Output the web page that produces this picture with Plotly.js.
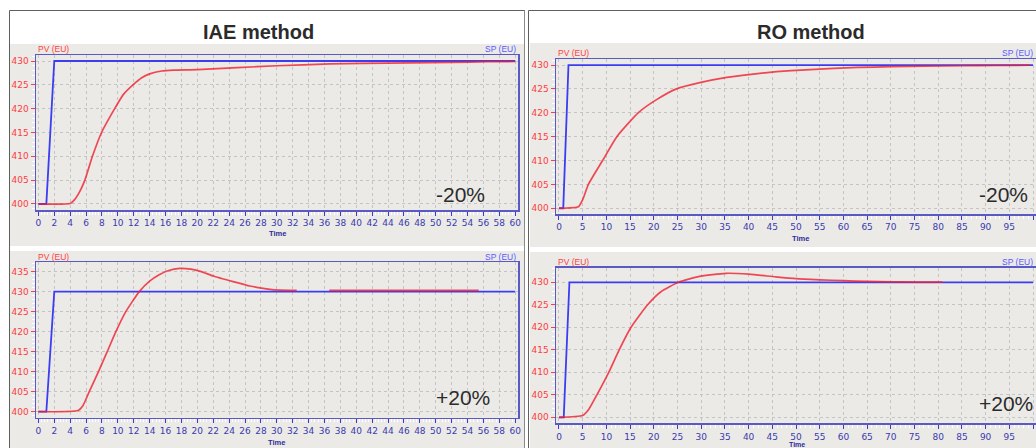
<!DOCTYPE html>
<html>
<head>
<meta charset="utf-8">
<script src="https://cdn.plot.ly/plotly-3.0.1.min.js"></script>
<style>
html,body{margin:0;padding:0;background:#ffffff;}
#chart{width:1036px;height:448px;}
</style>
</head>
<body>
<div id="chart"></div>
<script>
// ---------- data ----------
const panelTitles = ["IAE method", "RO method"];
const caseLabels = ["-20%", "+20%", "-20%", "+20%"];

const iaeXTicks = [0,2,4,6,8,10,12,14,16,18,20,22,24,26,28,30,32,34,36,38,40,42,44,46,48,50,52,54,56,58,60];
const roXTicks = [0,5,10,15,20,25,30,35,40,45,50,55,60,65,70,75,80,85,90,95,100];
const yTicksA = [400,405,410,415,420,425,430];
const yTicksB = [400,405,410,415,420,425,430,435];

// IAE method, -20%
const iaeMinusSpT = [0, 1, 2, 60];
const iaeMinusSpV = [400, 400, 430, 430];
const iaeMinusPvT = [0, 4, 4.5, 5.2, 5.85, 6.8, 7.95, 9.6, 10.7, 11.9, 13, 14, 15.5, 17, 20, 25, 30, 36.7, 40.7, 46.8, 52, 56.6, 60];
const iaeMinusPvV = [400, 400.1, 400.8, 402.6, 405.0, 410.0, 415.0, 420.0, 423.0, 425.0, 426.5, 427.3, 427.9, 428.1, 428.2, 428.6, 429.0, 429.4, 429.5, 429.6, 429.7, 429.85, 429.9];

// IAE method, +20%
const iaePlusSpT = [0, 1, 2, 60];
const iaePlusSpV = [400, 400, 430, 430];
const iaePlusPvT = [0, 5.0, 5.6, 6.4, 7.56, 8.66, 9.75, 11.0, 12.7, 14.0, 15.2, 16.3, 17.8, 19.2, 20.5, 22.0, 24.5, 26.6, 28.7, 30.4, 32.5, 34.5, 36.6, 55.4];
const iaePlusPvV = [400, 400.3, 401.5, 405.0, 410.0, 415.0, 420.0, 425.0, 430.0, 432.6, 434.2, 435.2, 435.8, 435.6, 435.0, 433.9, 432.5, 431.4, 430.7, 430.35, 430.3, null, 430.3, 430.3];

// RO method, -20%
const roMinusSpT = [0, 0.9, 2, 100];
const roMinusSpV = [400, 400, 430, 430];
const roMinusPvT = [0, 4.1, 5.0, 6.2, 9.2, 12.2, 16.7, 20.5, 24.8, 29.7, 35.4, 41.0, 45.9, 52, 58, 63, 70, 77, 85, 92, 99.4];
const roMinusPvV = [400, 400.3, 401.8, 405.0, 410.0, 415.0, 420.0, 422.7, 425.0, 426.3, 427.4, 428.1, 428.6, 429.0, 429.3, 429.5, 429.65, 429.75, 429.85, 429.9, 429.95];

// RO method, +20%
const roPlusSpT = [0, 1, 2.2, 100];
const roPlusSpV = [400, 400, 430, 430];
const roPlusPvT = [0, 5.0, 6.3, 8.0, 10.5, 12.7, 15.2, 18.7, 21.5, 25.2, 29.6, 35.2, 40.1, 45.7, 50, 55, 60, 65, 70, 75, 80.9];
const roPlusPvV = [400, 400.4, 401.8, 405.0, 410.0, 415.0, 420.0, 425.0, 427.9, 430.0, 431.3, 432.0, 431.8, 431.2, 430.8, 430.55, 430.35, 430.2, 430.1, 430.05, 430.05];

// ---------- layout helpers ----------
const W = 1036, H = 448;
const fx = p => p / W;
const fy = p => 1 - p / H;

const BG = '#ebeae7';
const SP_COLOR = '#3c3cf2';
const PV_COLOR = 'rgba(240,30,45,0.8)';
const FRAME = '#5a5ac4';

function xAxis(d0, d1, range, ticks, minorStep, anchor) {
  return {
    domain: [fx(d0), Math.min(1, fx(d1))], range: range, anchor: anchor,
    tickmode: 'array', tickvals: ticks, ticktext: ticks.map(String),
    showline: true, mirror: true, linecolor: FRAME, linewidth: 1.5,
    ticks: 'outside', ticklen: 4, tickwidth: 1, tickcolor: '#3c3cc8',
    tickfont: {family: 'DejaVu Sans', size: 9, color: '#3a3aae'},
    showgrid: true, gridcolor: '#c4c4c4', griddash: 'dot', gridwidth: 1,
    zeroline: false, fixedrange: true,
    minor: {dtick: minorStep, tick0: 0, ticks: 'outside', ticklen: 3, tickcolor: '#ffffff', showgrid: false}
  };
}
function yAxis(d0, d1, range, ticks, anchor) {
  return {
    domain: [fy(d1), fy(d0)], range: range, anchor: anchor,
    tickmode: 'array', tickvals: ticks, ticktext: ticks.map(String),
    showline: true, mirror: true, linecolor: FRAME, linewidth: 1.5,
    ticks: 'outside', ticklen: 4, tickwidth: 1, tickcolor: '#ff4040',
    tickfont: {family: 'DejaVu Sans', size: 9, color: '#ff3c3c'},
    showgrid: true, gridcolor: '#c4c4c4', griddash: 'dot', gridwidth: 1,
    zeroline: false, fixedrange: true,
    minor: {dtick: 1, tick0: 0, ticks: 'outside', ticklen: 3, tickcolor: '#ffffff', showgrid: false}
  };
}

function sp(t, v, xa, ya) {
  return {x: t, y: v, xaxis: xa, yaxis: ya, type: 'scatter', mode: 'lines',
    line: {color: SP_COLOR, width: 1.8}, hoverinfo: 'skip', showlegend: false};
}
function pv(t, v, xa, ya) {
  return {x: t, y: v, xaxis: xa, yaxis: ya, type: 'scatter', mode: 'lines',
    line: {color: PV_COLOR, width: 1.7, shape: 'spline', smoothing: 0.5}, connectgaps: false,
    hoverinfo: 'skip', showlegend: false};
}

const data = [
  sp(iaeMinusSpT, iaeMinusSpV, 'x', 'y'),  pv(iaeMinusPvT, iaeMinusPvV, 'x', 'y'),
  sp(iaePlusSpT, iaePlusSpV, 'x2', 'y2'),  pv(iaePlusPvT, iaePlusPvV, 'x2', 'y2'),
  sp(roMinusSpT, roMinusSpV, 'x3', 'y3'),  pv(roMinusPvT, roMinusPvV, 'x3', 'y3'),
  sp(roPlusSpT, roPlusSpV, 'x4', 'y4'),    pv(roPlusPvT, roPlusPvV, 'x4', 'y4')
];

function txt(x, y, s, size, color, xanchor, weight) {
  return {xref: 'paper', yref: 'paper', x: fx(x), y: fy(y), text: s, showarrow: false,
    xanchor: xanchor || 'center', yanchor: 'middle',
    font: {family: 'Liberation Sans, Arial, sans-serif', size: size, color: color, weight: weight || 'normal'}};
}

const annotations = [
  txt(258, 32, panelTitles[0], 20, '#2b2b2b', 'center', 'bold'),
  txt(811, 32, panelTitles[1], 20, '#2b2b2b', 'center', 'bold'),
  // axis captions
  txt(36, 49, 'PV (EU)', 8.5, '#ff4040', 'left'),
  txt(518, 49, 'SP (EU)', 8.5, '#5a5aff', 'right'),
  txt(36, 256.5, 'PV (EU)', 8.5, '#ff4040', 'left'),
  txt(518, 256.5, 'SP (EU)', 8.5, '#5a5aff', 'right'),
  txt(556, 53, 'PV (EU)', 8.5, '#ff4040', 'left'),
  txt(1035, 52.5, 'SP (EU)', 8.5, '#5a5aff', 'right'),
  txt(556, 261.5, 'PV (EU)', 8.5, '#ff4040', 'left'),
  txt(1035, 262, 'SP (EU)', 8.5, '#5a5aff', 'right'),
  txt(277, 233.5, 'Time', 7.5, '#2c2c9a', 'center', 'bold'),
  txt(276, 442, 'Time', 7.5, '#2c2c9a', 'center', 'bold'),
  txt(800, 238.5, 'Time', 7.5, '#2c2c9a', 'center', 'bold'),
  {xref: 'paper', yref: 'paper', x: fx(797), y: 0, text: 'Time', showarrow: false,
    xanchor: 'center', yanchor: 'bottom', yshift: -2,
    font: {family: 'Liberation Sans, Arial, sans-serif', size: 7, color: '#2c2c9a', weight: 'bold'}},
  // case labels
  txt(460, 194, caseLabels[0], 21, '#2b2b2b', 'center'),
  txt(463, 397, caseLabels[1], 21, '#2b2b2b', 'center'),
  txt(1003, 194.5, caseLabels[2], 21, '#2b2b2b', 'center'),
  txt(1006, 403.5, caseLabels[3], 21, '#2b2b2b', 'center')
];

function rect(x0, y0, x1, y1, fill) {
  return {type: 'rect', xref: 'paper', yref: 'paper', x0: fx(x0), x1: fx(x1), y0: fy(y1), y1: fy(y0),
    fillcolor: fill, line: {width: 0}, layer: 'below'};
}
function seg(x0, y0, x1, y1, color, w) {
  return {type: 'line', xref: 'paper', yref: 'paper', x0: fx(x0), x1: fx(x1), y0: fy(y0), y1: fy(y1),
    line: {color: color, width: w}, layer: 'above'};
}

const shapes = [
  rect(10, 44, 524, 246, BG),
  rect(10, 251, 524, 448, BG),
  rect(530, 43, 1036, 247, BG),
  rect(530, 252, 1036, 448, BG),
  // panel borders
  seg(9.5, 10.5, 525, 10.5, '#5f5f5f', 1),
  seg(9.5, 10.5, 9.5, 448, '#5f5f5f', 1),
  seg(524.5, 10.5, 524.5, 448, '#8a8a8a', 1),
  seg(528.5, 10.5, 1036, 10.5, '#5f5f5f', 1),
  seg(528.5, 10.5, 528.5, 448, '#5f5f5f', 1)
];

const layout = {
  width: W, height: H,
  margin: {l: 0, r: 0, t: 0, b: 0, pad: 0},
  paper_bgcolor: '#ffffff', plot_bgcolor: BG,
  showlegend: false,
  xaxis:  xAxis(36, 518, [-0.3, 60.35], iaeXTicks, 0.4, 'y'),
  yaxis:  yAxis(55, 210, [398.74, 431.26], yTicksA, 'x'),
  xaxis2: xAxis(36, 518, [-0.3, 60.35], iaeXTicks, 0.4, 'y2'),
  yaxis2: yAxis(262, 417.5, [398.55, 437.4], yTicksB, 'x2'),
  xaxis3: xAxis(556, 1036, [-0.63, 100.63], roXTicks, 1, 'y3'),
  yaxis3: yAxis(59.3, 214, [398.8, 431.2], yTicksA, 'x3'),
  xaxis4: xAxis(556, 1036, [-0.63, 100.63], roXTicks, 1, 'y4'),
  yaxis4: yAxis(267.7, 423.3, [398.67, 433.24], yTicksA, 'x4'),
  annotations: annotations,
  shapes: shapes
};

Plotly.newPlot('chart', data, layout, {staticPlot: true, displayModeBar: false});
</script>
</body>
</html>
